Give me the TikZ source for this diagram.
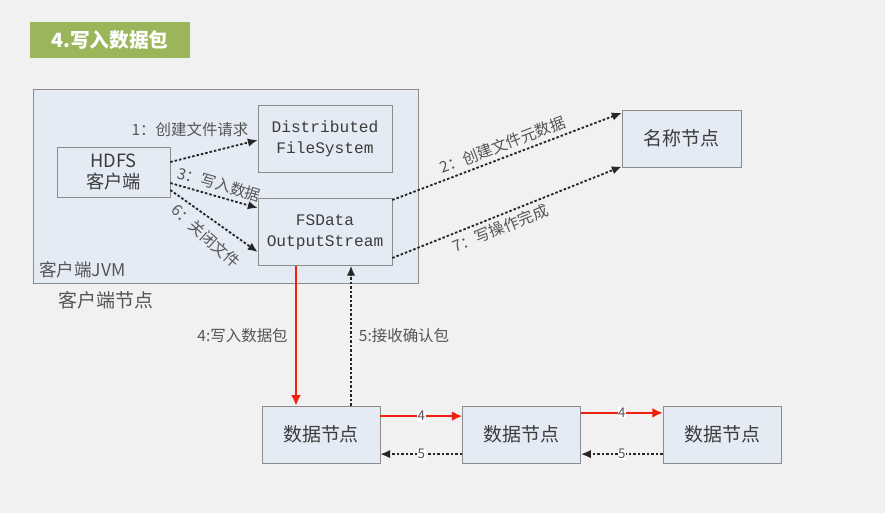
\documentclass[tikz,border=0pt]{standalone}
\usepackage{fontspec}
\setmainfont{Noto Sans CJK SC}
\setmonofont{Liberation Mono}
\usepackage{xcolor}
\usetikzlibrary{positioning,arrows.meta}
\definecolor{BG_GRAY}{HTML}{F1F1F1}
\definecolor{BOX_BLUE}{HTML}{E5EBF5}
\definecolor{LINE_GRAY}{HTML}{8C8C8C}
\definecolor{TXT_GRAY}{HTML}{3C3C3C}
\definecolor{LBL_GRAY}{HTML}{555555}
\definecolor{TITLE_GREEN}{HTML}{9BB55B}
\definecolor{ARROW_RED}{HTML}{F02010}
\tikzstyle{BOX_COLOR} = [fill=BOX_BLUE]
\tikzstyle{layer}     = [rectangle, draw=LINE_GRAY, BOX_COLOR, align=center, inner sep=2pt, text=TXT_GRAY]
\tikzstyle{client}    = [layer, minimum width=2.825cm, minimum height=1.25cm, font=\fontsize{13}{15}\selectfont]
\tikzstyle{stream}    = [layer, minimum width=3.35cm, minimum height=1.67cm, font=\ttfamily\fontsize{11.5}{15}\selectfont]
\tikzstyle{NN_NODE}   = [layer, minimum width=2.975cm, minimum height=1.425cm, font=\fontsize{13.5}{15}\selectfont]
\tikzstyle{DN_NODE}   = [layer, minimum width=2.95cm, minimum height=1.425cm, font=\fontsize{13.5}{15}\selectfont]
\tikzstyle{lbl}       = [text=LBL_GRAY, font=\fontsize{11}{13}\selectfont, inner sep=2pt]
\tikzstyle{num}       = [text=LBL_GRAY, fill=white, font=\fontsize{9.5}{10}\selectfont, inner sep=0.5pt]
\tikzstyle{dot_arrow} = [black!85, line width=1.3pt, dash pattern=on 1.8pt off 1.4pt, -{Latex[length=7pt,width=6pt]}]
\tikzstyle{red_arrow} = [ARROW_RED, line width=1.8pt, -{Latex[length=7.5pt,width=7pt]}]

\begin{document}
\begin{tikzpicture}[x=0.025cm, y=-0.025cm, node distance = 1cm and 2.05cm]
  \fill[BG_GRAY] (0,0) rectangle (885,513);
  \useasboundingbox (0,0) rectangle (885,513);

  % title
  \node[fill=TITLE_GREEN, text=white, minimum width=4cm, minimum height=0.9cm,
        font=\bfseries\fontsize{14}{16}\selectfont] (TITLE) at (110,40) {4.写入数据包};

  % client JVM
  \node[layer, minimum width=9.625cm, minimum height=4.85cm] (JVM) at (225.5,186) {};
  \node[lbl, font=\fontsize{12.5}{14}\selectfont, anchor=south west] (JVM_LBL) at (36,281) {客户端JVM};
  \node[lbl, font=\fontsize{13.5}{15}\selectfont, anchor=west] (CN_LBL) at (55,300) {客户端节点};

  \node[client] (HDFS_C) at (113.5,172) {HDFS\\客户端};
  \node[stream] (DFS_1) at (325,138.5) {Distributed\\FileSystem};
  \node[stream] (FSD_1) at (325,232) {FSData\\OutputStream};

  % name node
  \node[NN_NODE] (NN_1) at (681.5,138.5) {名称节点};

  % data nodes
  \node[DN_NODE] (DN_1) at (321,434.5) {数据节点};
  \node[DN_NODE, right=of DN_1] (DN_2) {数据节点};
  \node[DN_NODE, right=of DN_2] (DN_3) {数据节点};

  % client arrows
  \draw[dot_arrow] ([yshift=0.25cm]HDFS_C.east) -- ([yshift=-0.04cm]DFS_1.west);
  \node[lbl] (L_1) at (190,130) {1：创建文件请求};
  \draw[dot_arrow] ([yshift=-0.275cm]HDFS_C.east) -- node[lbl, sloped, above, pos=0.52, inner sep=3pt] {3：写入数据} ([yshift=0.6cm]FSD_1.west);
  \draw[dot_arrow] ([yshift=-0.45cm]HDFS_C.east) -- ([yshift=-0.5cm]FSD_1.west);
  \node[lbl, rotate=-42] (L_6) at (206,236) {6：关闭文件};

  % name node arrows
  \draw[dot_arrow] ([yshift=0.8cm]FSD_1.east) -- node[lbl, sloped, above, pos=0.5, inner sep=3pt] {2：创建文件元数据} ([yshift=0.64cm]NN_1.west);
  \draw[dot_arrow] ([yshift=-0.65cm]FSD_1.east) -- node[lbl, sloped, below, pos=0.45, inner sep=3pt] {7：写操作完成} ([yshift=-0.7cm]NN_1.west);

  % data packets
  \draw[red_arrow] ([xshift=-0.725cm]FSD_1.south) -- node[lbl, left=3pt] {4:写入数据包} ([xshift=-0.725cm]FSD_1.south |- DN_1.north);
  \draw[dot_arrow] ([xshift=0.65cm]FSD_1.south |- DN_1.north) -- node[lbl, right=3pt] {5:接收确认包} ([xshift=0.65cm]FSD_1.south);

  \draw[red_arrow] ([yshift=0.46cm]DN_1.east) -- node[num] {4} ([yshift=0.46cm]DN_2.west);
  \draw[red_arrow] ([yshift=0.54cm]DN_2.east) -- node[num] {4} ([yshift=0.54cm]DN_3.west);
  \draw[dot_arrow] ([yshift=-0.49cm]DN_2.west) -- node[num] {5} ([yshift=-0.49cm]DN_1.east);
  \draw[dot_arrow] ([yshift=-0.49cm]DN_3.west) -- node[num] {5} ([yshift=-0.49cm]DN_2.east);
\end{tikzpicture}
\end{document}
